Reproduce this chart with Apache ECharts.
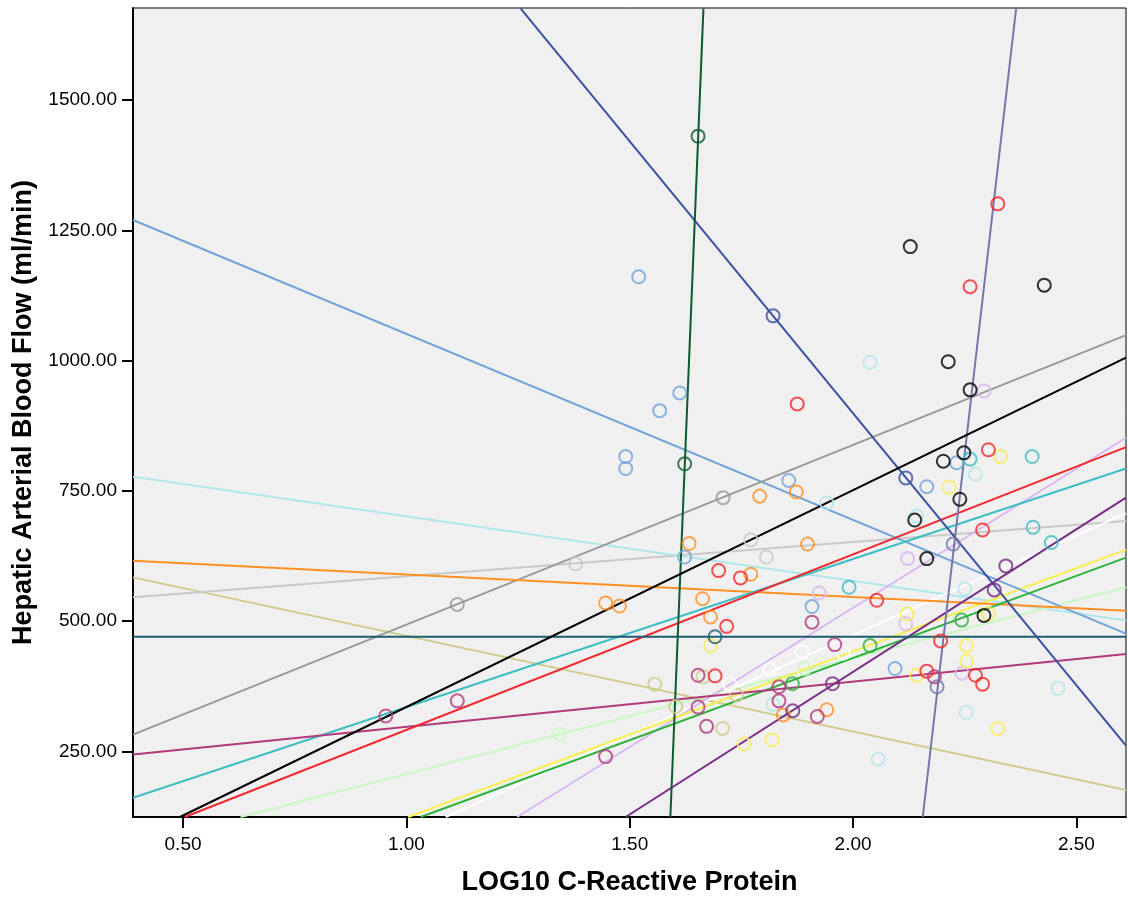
<!DOCTYPE html>
<html>
<head>
<meta charset="utf-8">
<script src="https://cdn.jsdelivr.net/npm/echarts@6/dist/echarts.min.js"></script>
<style>
  html, body { margin: 0; padding: 0; background: #fff; }
  #main { width: 1128px; height: 901px; }
</style>
</head>
<body>
<div id="main"></div>
<script>
// axis ticks
const xTicks = [0.5, 1.0, 1.5, 2.0, 2.5];
const yTicks = [250, 500, 750, 1000, 1250, 1500];

// points [log10 CRP, flow] and fit line end points, one pair per group
const skyPts = [[1.520, 1161], [1.612, 938], [1.567, 904], [1.491, 816], [1.491, 793], [1.856, 770], [1.623, 623], [2.232, 804], [2.165, 758], [1.908, 528], [2.094, 409]];
const skyFit = [[0.388, 1270], [2.611, 476]];
const navyPts = [[1.821, 1086], [2.118, 775]];
const navyFit = [[1.256, 1676], [2.611, 261]];
const forestPts = [[1.653, 1431], [1.623, 802]];
const forestFit = [[1.665, 1676], [1.591, 124]];
const slatePts = [[2.188, 374], [2.224, 648]];
const slateFit = [[2.365, 1676], [2.156, 124]];
const blackPts = [[2.128, 1219], [2.428, 1145], [2.213, 998], [2.262, 944], [2.248, 823], [2.202, 807], [2.239, 734], [2.138, 694], [2.165, 620], [2.293, 511]];
const blackFit = [[0.493, 124], [2.611, 1006]];
const redPts = [[2.324, 1301], [2.262, 1142], [1.875, 917], [2.303, 829], [2.290, 675], [2.053, 540], [2.196, 462], [2.165, 404], [2.274, 396], [2.290, 379], [1.699, 597], [1.748, 583], [1.717, 490], [1.691, 395]];
const redFit = [[0.504, 124], [2.611, 834]];
const tealPts = [[2.262, 811], [2.401, 816], [2.403, 680], [2.444, 651], [1.991, 565]];
const tealFit = [[0.388, 161], [2.611, 793]];
const grayPts = [[1.114, 532], [1.709, 737]];
const grayFit = [[0.388, 282], [2.611, 1049]];
const silverPts = [[1.379, 610], [1.771, 656], [1.806, 623]];
const silverFit = [[0.388, 546], [2.611, 692]];
const orangePts = [[1.446, 535], [1.477, 529], [1.633, 649], [1.663, 543], [1.681, 508], [1.791, 740], [1.873, 748], [1.771, 590], [1.898, 648], [1.941, 330], [1.844, 320]];
const orangeFit = [[0.388, 616], [2.611, 520]];
const aquaPts = [[2.038, 997], [1.941, 727], [2.274, 782], [2.142, 702], [2.250, 562], [2.459, 371], [2.253, 325], [2.056, 235], [1.821, 340]];
const aquaFit = [[0.388, 777], [2.611, 501]];
const tanPts = [[1.556, 379], [1.603, 336], [1.664, 393], [1.708, 294], [1.739, 358]];
const tanFit = [[0.388, 584], [2.611, 176]];
const petrolPts = [[1.691, 470]];
const petrolFit = [[0.388, 470], [2.611, 470]];
const berryPts = [[0.954, 318], [1.114, 347], [1.446, 240], [1.653, 396], [1.653, 335], [1.672, 298], [1.908, 498], [1.834, 374], [1.834, 347], [1.920, 317], [1.959, 455], [2.182, 393]];
const berryFit = [[0.388, 244], [2.611, 437]];
const plumPts = [[1.865, 328], [1.954, 380], [2.316, 560], [2.342, 606]];
const plumFit = [[1.491, 124], [2.611, 737]];
const yellowPts = [[1.681, 453], [1.756, 264], [1.819, 272], [2.330, 816], [2.215, 757], [2.121, 514], [2.303, 514], [2.254, 453], [2.254, 423], [2.142, 396], [2.324, 294]];
const yellowFit = [[1.004, 124], [2.611, 637]];
const greenPts = [[1.864, 380], [2.038, 453], [2.243, 502]];
const greenFit = [[1.032, 124], [2.611, 622]];
const whitePts = [[1.724, 379], [1.813, 407], [1.886, 441], [1.978, 439]];
const whiteFit = [[1.088, 124], [2.611, 707]];
const mintPts = [[1.342, 283], [1.892, 409]];
const mintFit = [[0.629, 124], [2.611, 565]];
const lilacPts = [[2.293, 942], [2.122, 620], [1.924, 554], [2.118, 495], [2.244, 400]];
const lilacFit = [[1.248, 124], [2.611, 852]];

const groups = [
  { pts: tanPts, fit: tanFit, color: '#d2cb8e' },
  { pts: silverPts, fit: silverFit, color: '#c9c9c9' },
  { pts: aquaPts, fit: aquaFit, color: '#b1e6e9' },
  { pts: mintPts, fit: mintFit, color: '#c8f7c2' },
  { pts: whitePts, fit: whiteFit, color: '#ffffff' },
  { pts: lilacPts, fit: lilacFit, color: '#d8b6ef' },
  { pts: yellowPts, fit: yellowFit, color: '#f7ee55' },
  { pts: skyPts, fit: skyFit, color: '#72a3d9' },
  { pts: grayPts, fit: grayFit, color: '#999999' },
  { pts: orangePts, fit: orangeFit, color: '#ff9124' },
  { pts: tealPts, fit: tealFit, color: '#3ebec4' },
  { pts: greenPts, fit: greenFit, color: '#2eb23c' },
  { pts: berryPts, fit: berryFit, color: '#b13a7c' },
  { pts: plumPts, fit: plumFit, color: '#772c86' },
  { pts: redPts, fit: redFit, color: '#f2272d' },
  { pts: petrolPts, fit: petrolFit, color: '#1c5d70' },
  { pts: slatePts, fit: slateFit, color: '#7676ad' },
  { pts: navyPts, fit: navyFit, color: '#3c50a3' },
  { pts: forestPts, fit: forestFit, color: '#0d5b2c' },
  { pts: blackPts, fit: blackFit, color: '#000000' }
];

const series = [];
groups.forEach(g => {
  series.push({
    type: 'line',
    data: g.fit,
    symbol: 'none',
    silent: true,
    z: 2,
    lineStyle: { color: g.color, width: 2 }
  });
  series.push({
    type: 'scatter',
    data: g.pts,
    symbol: 'circle',
    symbolSize: 13,
    z: 3,
    itemStyle: { color: 'rgba(0,0,0,0)', borderColor: g.color, borderWidth: 2 }
  });
});

const chart = echarts.init(document.getElementById('main'));
chart.setOption({
  animation: false,
  textStyle: { fontFamily: 'Liberation Sans, Arial, sans-serif' },
  grid: {
    left: 133, right: 2, top: 8, bottom: 81,
    show: true, backgroundColor: '#f0f0f0', borderColor: '#000', borderWidth: 1
  },
  xAxis: {
    type: 'value',
    min: 0.388, max: 2.611,
    name: 'LOG10 C-Reactive Protein',
    nameLocation: 'middle',
    nameGap: 52,
    nameTextStyle: { fontSize: 27, fontWeight: 'bold', color: '#000' },
    splitLine: { show: false },
    axisLine: { show: true, onZero: false, lineStyle: { color: '#000', width: 2 } },
    axisTick: { show: true, length: 11, customValues: xTicks, lineStyle: { color: '#000', width: 2 } },
    axisLabel: { customValues: xTicks, margin: 18, fontSize: 19, color: '#000', formatter: v => v.toFixed(2) }
  },
  yAxis: {
    type: 'value',
    min: 124, max: 1677,
    name: 'Hepatic Arterial Blood Flow (ml/min)',
    nameLocation: 'middle',
    nameGap: 91,
    nameTextStyle: { fontSize: 27, fontWeight: 'bold', color: '#000' },
    splitLine: { show: false },
    axisLine: { show: true, onZero: false, lineStyle: { color: '#000', width: 2 } },
    axisTick: { show: true, length: 11, customValues: yTicks, lineStyle: { color: '#000', width: 2 } },
    axisLabel: { customValues: yTicks, margin: 16, fontSize: 19, color: '#000', formatter: v => v.toFixed(2) }
  },
  series: series
});
</script>
</body>
</html>
